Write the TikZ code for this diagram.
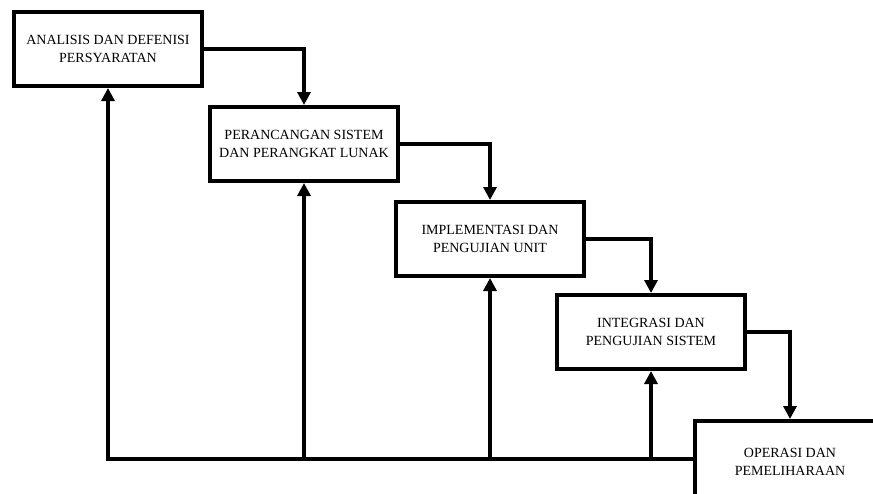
\documentclass[tikz,border=0pt]{standalone}
\usepackage{fontspec}
\setmainfont{Liberation Serif}
\usetikzlibrary{arrows.meta}
\begin{document}
\begin{tikzpicture}[x=1pt,y=-1pt,
  stage/.style={draw=black, line width=4pt, fill=white, minimum width=188pt, minimum height=74pt,
    align=center, inner sep=2pt, font=\fontsize{14}{18}\selectfont},
  flow/.style={line width=4pt, -{Triangle[width=13pt,length=13pt]}, line join=miter},
  bus/.style={line width=4pt}]
\useasboundingbox (0,0) rectangle (873,493);
\begin{scope}
\clip (0,0) rectangle (873,493);
\node[stage] (b1) at (108,49) {ANALISIS DAN DEFENISI\\PERSYARATAN};
\node[stage] (b2) at (304,144) {PERANCANGAN SISTEM\\DAN PERANGKAT LUNAK};
\node[stage] (b3) at (490,239) {IMPLEMENTASI DAN\\PENGUJIAN UNIT};
\node[stage] (b4) at (651,332) {INTEGRASI DAN\\PENGUJIAN SISTEM};
\node[stage, minimum width=190pt, minimum height=82pt] (b5) at (790,462) {OPERASI DAN\\PEMELIHARAAN};
\coordinate (bl) at (108,459);
\coordinate (br) at (b5.west |- bl);
\draw[flow] (b1.east) -| (b2.north);
\draw[flow] (b2.east) -| (b3.north);
\draw[flow] (b3.east) -| (b4.north);
\draw[flow] (b4.east) -| (b5.north);
\draw[flow] (br) -- (bl) -- (b1.south);
\draw[flow] (b2.south |- bl) -- (b2.south);
\draw[flow] (b3.south |- bl) -- (b3.south);
\draw[flow] (b4.south |- bl) -- (b4.south);
\end{scope}
\end{tikzpicture}
\end{document}
